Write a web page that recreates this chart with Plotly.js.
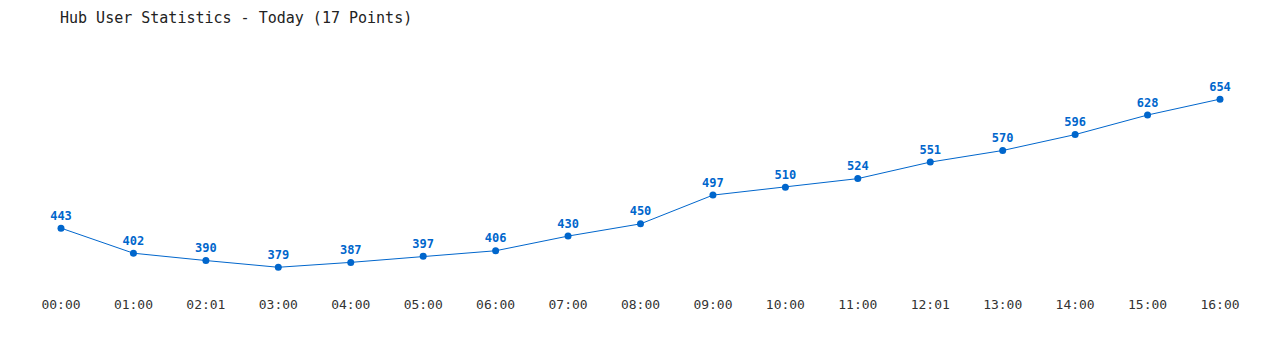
<!DOCTYPE html>
<html><head><meta charset="utf-8">
<script src="https://cdn.plot.ly/plotly-3.0.1.min.js"></script>
<style>html,body{margin:0;padding:0;background:#fff}#chart{width:1280px;height:350px}</style>
</head><body><div id="chart"></div>
<script>
const times = ["00:00","01:00","02:01","03:00","04:00","05:00","06:00","07:00","08:00","09:00","10:00","11:00","12:01","13:00","14:00","15:00","16:00"];
const users = [443,402,390,379,387,397,406,430,450,497,510,524,551,570,596,628,654];
const titleText = "Hub User Statistics - Today (17 Points)";

const trace = {
  x: times, y: users, type: "scatter", mode: "lines+markers+text",
  text: users.map(String), textposition: "top center",
  textfont: {family: "DejaVu Sans Mono, monospace", size: 12, color: "#0066cc", weight: "bold"},
  line: {color: "#0066cc", width: 1},
  marker: {color: "#0066cc", size: 7},
  hoverinfo: "x+y", cliponaxis: false
};
const layout = {
  width: 1280, height: 350,
  margin: {l: 61, r: 60, t: 71, b: 65},
  paper_bgcolor: "#fff", plot_bgcolor: "#fff",
  showlegend: false,
  title: {text: titleText, x: 60/1280, xanchor: "left", y: 1 - 18/350, yanchor: "middle",
          font: {family: "DejaVu Sans Mono, monospace", size: 15, color: "#222"}},
  xaxis: {type: "category", range: [0, 16], showgrid: false, zeroline: false, showline: false,
          ticks: "", ticklabelstandoff: 10,
          tickfont: {family: "DejaVu Sans Mono, monospace", size: 13, color: "#333"}},
  yaxis: {range: [350, 700], showgrid: false, zeroline: false, showline: false, showticklabels: false, ticks: ""}
};
Plotly.newPlot("chart", [trace], layout, {displayModeBar: false, staticPlot: false});
</script></body></html>
